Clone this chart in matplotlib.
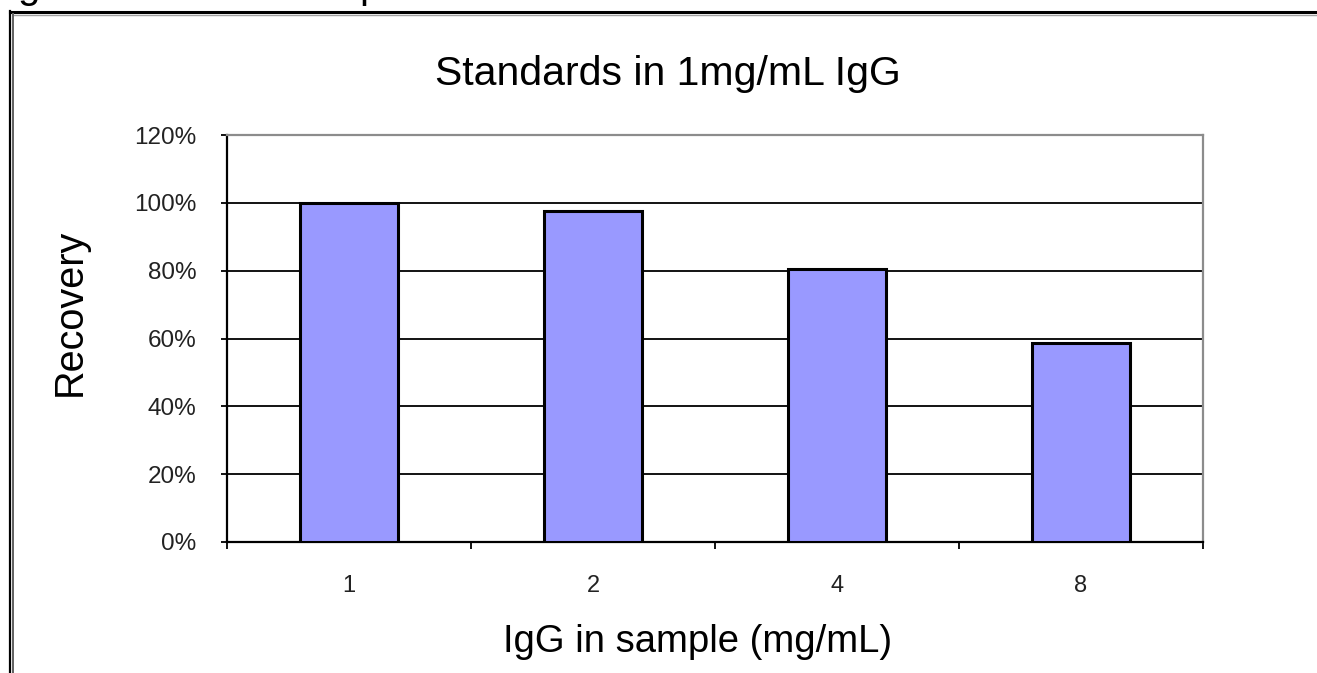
import matplotlib.pyplot as plt
from matplotlib.lines import Line2D
from matplotlib.ticker import FixedLocator, PercentFormatter

# data
categories = ['1', '2', '4', '8']
recovery = [1.00, 0.977, 0.806, 0.587]

plt.rcParams['font.family'] = ['Liberation Sans', 'DejaVu Sans']

W, H = 1317, 673
fig = plt.figure(figsize=(W / 100, H / 100), dpi=100)
fig.patch.set_facecolor('white')

# plot area (pixel positions from the reference)
L, R, T, B = 227, 1203, 135, 542
ax = fig.add_axes([L / W, 1 - B / H, (R - L) / W, (B - T) / H])

x = [i + 0.5 for i in range(len(categories))]
ax.bar(x, recovery, width=0.4, color='#9999FF', edgecolor='black',
       linewidth=2.2, zorder=3)

ax.set_xlim(0, len(categories))
ax.set_ylim(0, 1.2)

# y axis
ax.set_yticks([0, 0.2, 0.4, 0.6, 0.8, 1.0, 1.2])
ax.yaxis.set_major_formatter(PercentFormatter(1.0, decimals=0))
ax.tick_params(axis='y', direction='out', length=4, width=1.3,
               labelsize=17.5, pad=18, colors='black', labelcolor='#222222')
ax.yaxis.grid(True, color='black', linewidth=1.3, zorder=1)

# x axis: ticks between categories, labels at centres
ax.xaxis.set_major_locator(FixedLocator(range(len(categories) + 1)))
ax.xaxis.set_major_formatter(plt.NullFormatter())
ax.xaxis.set_minor_locator(FixedLocator(x))
ax.set_xticklabels(categories, minor=True)
ax.tick_params(axis='x', which='major', direction='out', length=5, width=1.3)
ax.tick_params(axis='x', which='minor', length=0, labelsize=17, pad=24,
               labelcolor='#222222')

for side in ['left', 'bottom']:
    ax.spines[side].set_color('black')
    ax.spines[side].set_linewidth(1.6)
for side in ['top', 'right']:
    ax.spines[side].set_color('#8c8c8c')
    ax.spines[side].set_linewidth(1.6)

# titles and axis labels
fig.text(668 / W, 1 - 85 / H, 'Standards in 1mg/mL IgG', fontsize=29.5,
         ha='center', va='baseline')
fig.text(70 / W, 1 - 312 / H, 'Recovery', fontsize=28.5, rotation=90,
         ha='center', va='center')
fig.text(698 / W, 1 - 652 / H, 'IgG in sample (mg/mL)', fontsize=27.5,
         ha='center', va='baseline')

# outer chart frame (top and left edges visible)
fig.add_artist(Line2D([10 / W, 1], [1 - 12 / H, 1 - 12 / H], color='black',
                      linewidth=2.2, transform=fig.transFigure))
fig.add_artist(Line2D([13 / W, 1], [1 - 14.5 / H, 1 - 14.5 / H], color='#a0a0a0',
                      linewidth=1.0, transform=fig.transFigure))
fig.add_artist(Line2D([10 / W, 10 / W], [0, 1 - 11 / H], color='black',
                      linewidth=1.6, transform=fig.transFigure))
fig.add_artist(Line2D([13 / W, 13 / W], [0, 1 - 14 / H], color='#606060',
                      linewidth=1.4, transform=fig.transFigure))

# descenders of the text cut off above the chart (the reference shows only these)
fig.text(17 / W, 1 + 1.5 / H, 'g', fontsize=29, ha='left', va='baseline')
fig.text(359 / W, 1 + 1.5 / H, 'p', fontsize=29, ha='left', va='baseline')

fig.savefig('out.png', dpi=100)
